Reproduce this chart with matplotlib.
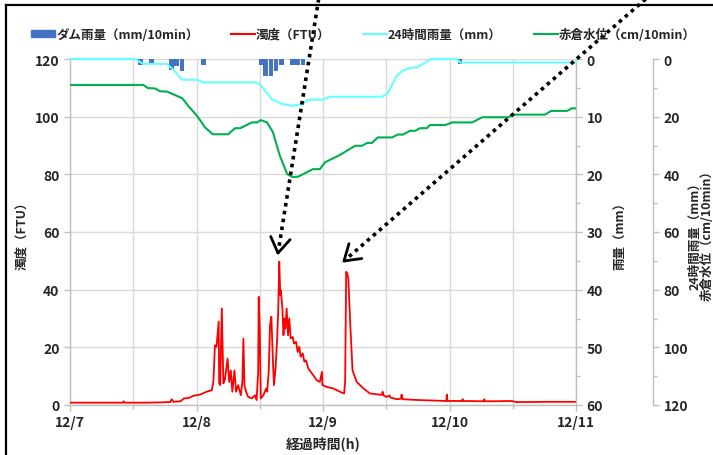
import numpy as np
import matplotlib
matplotlib.use("Agg")
import matplotlib.pyplot as plt
from matplotlib.lines import Line2D
from matplotlib.patches import Rectangle

plt.rcParams['font.family'] = ['Noto Sans CJK JP', 'DejaVu Sans']
plt.rcParams['font.weight'] = 'bold'
plt.rcParams['axes.labelweight'] = 'bold'

# ---- data (hours from 12/7 00:00) ----
bar_t = [13.4, 15.5, 19.3, 20.2, 21.2, 25.3, 36.2, 37.1, 38.1, 39.1, 40.1, 42.2, 43.2, 44.2, 74.0]
bar_v = [1.0, 0.9, 1.9, 1.2, 2.1, 1.0, 1.0, 2.9, 2.9, 2.1, 1.0, 1.0, 1.0, 1.0, 0.8]

red_t = [0, 4, 8, 10, 10.2, 10.4, 14, 17, 18.5, 19.0,
         19.3, 19.6, 21.0, 21.6, 22.5, 23.4, 24.7, 25.9, 26.9, 27.2,
         27.5, 27.8, 28.2, 28.3, 28.5, 28.8, 29.1, 29.4, 29.9, 30.2,
         30.5, 30.8, 31.2, 31.5, 31.9, 32.4, 32.7, 32.9, 33.1, 33.4,
         33.8, 34.5, 35.1, 35.4, 35.7, 35.8, 36.0, 36.2, 36.7, 37.2,
         37.4, 37.7, 37.95, 38.2, 38.5, 38.7, 39.0, 39.3, 39.5, 39.7,
         39.9, 40.0, 40.3, 40.5, 40.7, 40.86, 41.1, 41.37, 41.6, 41.87,
         42.25, 42.5, 42.88, 43.2, 43.5, 43.77, 44.15, 44.47, 44.78, 45.2,
         45.67, 46.17, 46.8, 47.4, 47.8, 47.9, 48.7, 50.0, 51.2, 52.0,
         52.2, 52.4, 52.6, 52.8, 53.2, 53.6, 54.4, 55.7, 56.9, 59.2,
         59.3, 59.5, 60.1, 60.6, 60.8, 62.0, 62.8, 62.9, 63.1, 66.4,
         71.4, 71.5, 71.6, 74.4, 74.5, 74.6, 78.5, 78.6, 78.7, 80.3,
         83.8, 84.7, 90.0, 96.0]
red_v = [0.8, 0.8, 0.8, 0.8, 1.3, 0.8, 0.8, 0.9, 1.0, 1.0,
         2.0, 1.1, 1.3, 2.3, 2.4, 3.2, 3.6, 4.6, 5.1, 8.0,
         20.7, 20.2, 28.9, 7.5, 6.9, 33.5, 7.5, 9.0, 16.1, 8.0,
         12.0, 4.6, 12.0, 4.6, 6.9, 3.4, 8.0, 23.0, 6.9, 4.6,
         2.8, 2.3, 3.4, 1.7, 11.5, 37.5, 26.5, 2.3, 3.4, 5.7,
         4.6, 11.5, 27.7, 30.6, 15.0, 6.9, 12.7, 23.1, 32.3, 49.7,
         38.1, 39.8, 33.5, 24.2, 30.0, 26.5, 33.5, 24.2, 30.0, 23.1,
         23.6, 21.3, 21.9, 18.4, 20.2, 16.7, 17.9, 15.0, 15.5, 12.7,
         11.5, 10.3, 8.6, 8.0, 11.5, 6.9, 6.3, 5.7, 4.6, 4.0,
         8.0, 46.2, 45.5, 44.0, 27.0, 12.0, 8.0, 5.7, 4.0, 3.5,
         4.6, 3.3, 2.8, 3.3, 2.6, 2.0, 2.2, 3.6, 2.0, 1.7,
         1.4, 3.6, 1.4, 1.4, 2.0, 1.4, 1.3, 2.0, 1.3, 1.3,
         1.4, 1.0, 1.1, 1.1]

cy_t = [0, 12.3, 13.9, 18.4, 20.0, 21.3, 24.1, 25.3, 35.1, 36.0,
        38.3, 40.2, 42.1, 43.3, 44.2, 45.2, 48.0, 49.3, 59.2, 60.2,
        62.0, 63.2, 64.5, 65.8, 68.0, 68.3, 73.4, 74.0, 96]
cy_v = [0, 0, 1.7, 1.7, 4.5, 7.2, 7.2, 8.1, 8.1, 8.7,
        13.9, 15.6, 16.2, 15.9, 15.6, 14.1, 14.1, 13.1, 13.1, 12.1,
        5.8, 4.0, 3.1, 2.9, 0.6, 0, 0, 1.2, 1.2]

gr_t = [0, 13.9, 14.8, 16.1, 17.1, 18.4, 19.9, 21.3, 22.4, 24.1,
        25.6, 27.1, 30.0, 31.3, 32.3, 34.5, 35.5, 36.2, 37.4, 38.5,
        39.8, 41.2, 42.3, 43.3, 46.1, 47.4, 48.4, 51.2, 54.1, 55.4,
        56.4, 57.3, 58.4, 61.1, 62.2, 63.2, 64.5, 65.5, 66.4, 67.7,
        68.3, 71.2, 72.5, 76.3, 78.2, 83.1, 84.1, 90.1, 91.3, 94.3,
        95.2, 96]
gr_v = [9.0, 9.0, 10.1, 10.2, 11.2, 11.3, 12.5, 13.6, 16.2, 19.7,
        23.7, 26.1, 26.1, 24.0, 24.0, 22.0, 22.0, 21.2, 22.0, 25.4,
        33.5, 39.9, 41.0, 40.8, 38.2, 38.2, 35.8, 33.3, 30.1, 30.1,
        29.1, 29.1, 27.2, 27.2, 26.2, 26.2, 24.9, 24.9, 24.0, 24.0,
        22.9, 22.9, 22.0, 22.0, 20.2, 20.2, 19.3, 19.3, 18.0, 18.0,
        17.1, 17.1]

day_ticks = [0, 24, 48, 72, 96]
day_labels = ['12/7', '12/8', '12/9', '12/10', '12/11']

# ---- figure ----
W, H = 713, 456
fig = plt.figure(figsize=(W / 100, H / 100), dpi=100)
ax = fig.add_axes([70 / W, 1 - 406 / H, (576 - 70) / W, 346 / H])
ax2 = ax.twinx()
ax3 = ax.twinx()

grid_c = '#d9d9d9'
spine_c = '#bfbfbf'
txt_c = '#262626'

# left: turbidity
ax.plot(red_t, red_v, color='#ff0000', lw=1.3, zorder=3)
ax.set_xlim(0, 96)
ax.set_ylim(0, 120)
ax.set_yticks(range(0, 121, 20))
ax.set_xticks(day_ticks)
ax.set_xticklabels(day_labels)
ax.set_xticks(range(12, 96, 24), minor=True)
ax.grid(True, which='both', color=grid_c, lw=1)
ax.set_axisbelow(True)
ax.set_ylabel('濁度（FTU）', fontsize=9, color=txt_c, labelpad=5)
ax.set_xlabel('経過時間(h)', fontsize=10, color=txt_c, labelpad=4)
ax.tick_params(axis='x', which='minor', length=0)

# right 1: dam rainfall bars
ax2.bar(bar_t, bar_v, width=0.85, color='#4472c4', zorder=2)
ax2.set_ylim(60, 0)
ax2.set_yticks(range(0, 61, 10))
ax2.set_yticks(range(5, 60, 10), minor=True)
ax2.set_ylabel('雨量（mm）', fontsize=9, color=txt_c, labelpad=8)

# right 2: 24h rain and water level
ax3.spines['right'].set_position(('outward', 77 * 0.72))
ax3.plot(cy_t, cy_v, color='#66ffff', lw=1.5, clip_on=False)
ax3.plot(gr_t, gr_v, color='#00b050', lw=1.5)
ax3.set_ylim(120, 0)
ax3.set_yticks(range(0, 121, 20))
ax3.set_yticks(range(10, 120, 20), minor=True)
ax3.set_ylabel('24時間雨量（mm）\n赤倉水位（cm/10min）', fontsize=9,
               color=txt_c, labelpad=0, linespacing=1.0)

for a in (ax, ax2, ax3):
    for s in a.spines.values():
        s.set_visible(False)
    a.tick_params(which='both', colors=spine_c, labelcolor=txt_c, labelsize=10,
                  width=1, length=4)
    a.tick_params(which='minor', length=3)
    for lab in a.get_xticklabels() + a.get_yticklabels():
        lab.set_fontweight('bold')
ax.spines['left'].set_visible(True)
ax.spines['bottom'].set_visible(True)
ax2.spines['right'].set_visible(True)
ax3.spines['right'].set_visible(True)
for s in (ax.spines['left'], ax.spines['bottom'], ax2.spines['right'], ax3.spines['right']):
    s.set_color(spine_c)
    s.set_linewidth(1)

# legend
handles = [Rectangle((0, 0), 1, 1, color='#4472c4'),
           Line2D([], [], color='#ff0000', lw=1.5),
           Line2D([], [], color='#66ffff', lw=1.5),
           Line2D([], [], color='#00b050', lw=1.5)]
labels = ['ダム雨量（mm/10min）', '濁度（FTU）', '24時間雨量（mm）', '赤倉水位（cm/10min）']
fig.legend(handles, labels, loc='center', bbox_to_anchor=(0.51, 1 - 35 / H), ncol=4,
           frameon=False, fontsize=9, handlelength=1.9, handleheight=0.5,
           handletextpad=0.1, columnspacing=2.6, labelcolor=txt_c)

# outer frame (cut at right and bottom)
fig.add_artist(Line2D([6 / W, 6 / W], [0, 1 - 6 / H], color='black', lw=1.6))
fig.add_artist(Line2D([6 / W, 1], [1 - 6 / H, 1 - 6 / H], color='black', lw=1.6))


def pointer(x0, y0, x1, y1):
    # dotted pointer from (x0,y0) to tip (x1,y1), pixel coords from top-left
    fig.add_artist(Line2D([x0 / W, x1 / W], [1 - y0 / H, 1 - y1 / H], color='black',
                          lw=2.6, linestyle=(0, (1, 1.2)), clip_on=False))
    d = np.array([x0 - x1, y0 - y1], float)
    d /= np.hypot(*d)
    for ang in (np.radians(33), -np.radians(33)):
        c, s = np.cos(ang), np.sin(ang)
        w = np.array([c * d[0] - s * d[1], s * d[0] + c * d[1]]) * 18
        fig.add_artist(Line2D([x1 / W, (x1 + w[0]) / W], [1 - y1 / H, 1 - (y1 + w[1]) / H],
                              color='black', lw=2.0, solid_capstyle='round'))


pointer(319, -2, 278, 254)
pointer(648, -2, 344, 262)

fig.savefig('out.png', dpi=100)
